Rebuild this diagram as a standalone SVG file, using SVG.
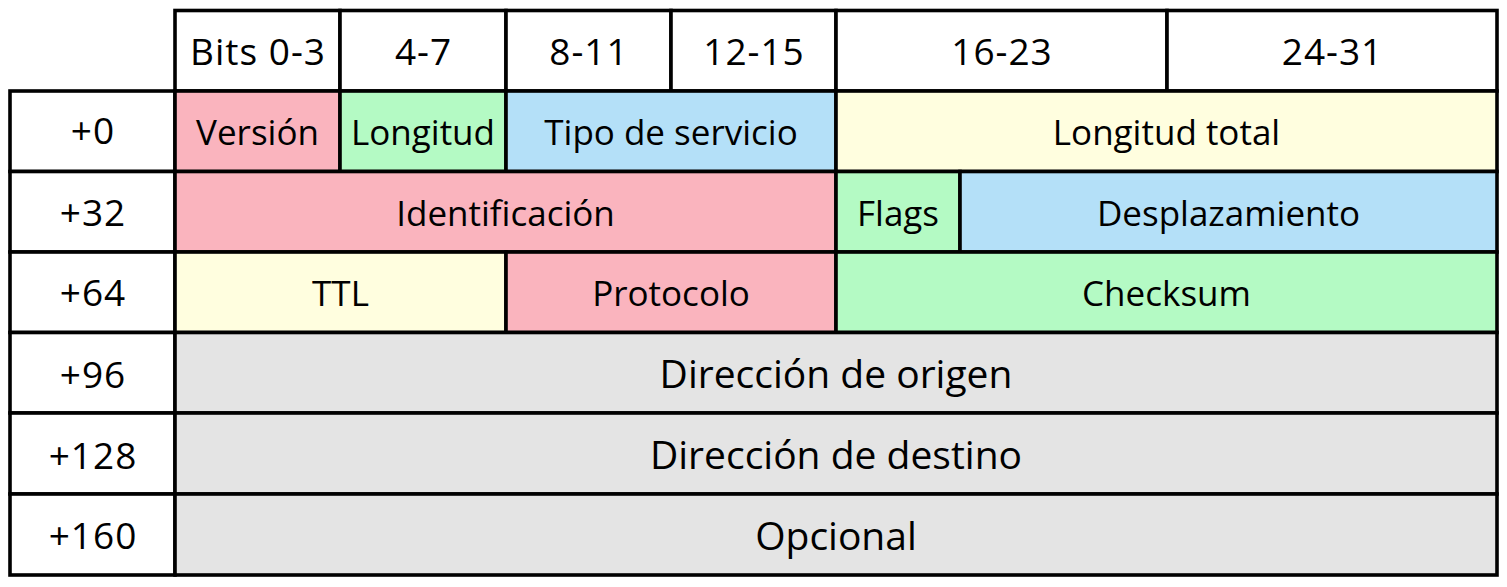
<svg xmlns="http://www.w3.org/2000/svg" width="1507" height="587" viewBox="0 0 1507 587">
<style>
rect{stroke:#000;stroke-width:3.6}
text{font-family:"Open Sans","DejaVu Sans",sans-serif;font-size:35px;fill:#000;text-anchor:middle}
.n{font-size:37px;letter-spacing:1px}
.L{font-size:39px}
.w{fill:#fff}.p{fill:#fab4be}.g{fill:#b4fac4}.b{fill:#b4e0f8}.y{fill:#fffedf}.k{fill:#e4e4e4}
</style>
<rect x="0" y="0" width="1507" height="587" style="fill:#fff;stroke:none"/>
<g id="header">
<g id="h0"><rect class="w" x="175" y="10.5" width="165" height="80.5"/><text class="n" x="258" y="65">Bits 0-3</text></g>
<g id="h1"><rect class="w" x="340" y="10.5" width="166" height="80.5"/><text class="n" x="423.5" y="65">4-7</text></g>
<g id="h2"><rect class="w" x="506" y="10.5" width="165" height="80.5"/><text class="n" x="589" y="65">8-11</text></g>
<g id="h3"><rect class="w" x="671" y="10.5" width="165" height="80.5"/><text class="n" x="754" y="65">12-15</text></g>
<g id="h4"><rect class="w" x="836" y="10.5" width="331" height="80.5"/><text class="n" x="1002" y="65">16-23</text></g>
<g id="h5"><rect class="w" x="1167" y="10.5" width="330" height="80.5"/><text class="n" x="1332.5" y="65">24-31</text></g>
</g>
<g id="offsets">
<g id="o0"><rect class="w" x="10" y="91" width="165" height="80.5"/><text class="n" x="93" y="144">+0</text></g>
<g id="o32"><rect class="w" x="10" y="171.5" width="165" height="80.5"/><text class="n" x="93" y="226">+32</text></g>
<g id="o64"><rect class="w" x="10" y="252" width="165" height="80.5"/><text class="n" x="93" y="306">+64</text></g>
<g id="o96"><rect class="w" x="10" y="332.5" width="165" height="80.5"/><text class="n" x="93" y="388">+96</text></g>
<g id="o128"><rect class="w" x="10" y="413" width="165" height="81"/><text class="n" x="93" y="469">+128</text></g>
<g id="o160"><rect class="w" x="10" y="494" width="165" height="81"/><text class="n" x="93" y="549">+160</text></g>
</g>
<g id="version"><rect class="p" x="175" y="91" width="165" height="80.5"/><text x="257.5" y="145">Versión</text></g>
<g id="longitud"><rect class="g" x="340" y="91" width="166" height="80.5"/><text x="423" y="145">Longitud</text></g>
<g id="tipo"><rect class="b" x="506" y="91" width="330" height="80.5"/><text x="671" y="145">Tipo de servicio</text></g>
<g id="longtotal"><rect class="y" x="836" y="91" width="661" height="80.5"/><text x="1166.5" y="145">Longitud total</text></g>
<g id="ident"><rect class="p" x="175" y="171.5" width="661" height="80.5"/><text x="505.5" y="226">Identificación</text></g>
<g id="flags"><rect class="g" x="836" y="171.5" width="124" height="80.5"/><text x="898" y="226">Flags</text></g>
<g id="desp"><rect class="b" x="960" y="171.5" width="537" height="80.5"/><text x="1228.5" y="226">Desplazamiento</text></g>
<g id="ttl"><rect class="y" x="175" y="252" width="331" height="80.5"/><text x="340.5" y="306">TTL</text></g>
<g id="proto"><rect class="p" x="506" y="252" width="330" height="80.5"/><text x="671" y="306">Protocolo</text></g>
<g id="checksum"><rect class="g" x="836" y="252" width="661" height="80.5"/><text x="1166.5" y="306">Checksum</text></g>
<g id="origen"><rect class="k" x="175" y="332.5" width="1322" height="80.5"/><text class="L" x="836" y="388">Dirección de origen</text></g>
<g id="destino"><rect class="k" x="175" y="413" width="1322" height="81"/><text class="L" x="836" y="469">Dirección de destino</text></g>
<g id="opcional"><rect class="k" x="175" y="494" width="1322" height="81"/><text class="L" x="836" y="550">Opcional</text></g>
<g id="connectors"/>
</svg>
